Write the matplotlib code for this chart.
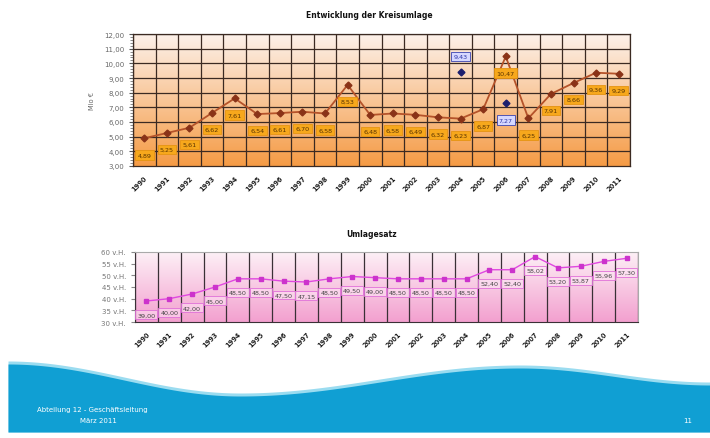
import numpy as np
import matplotlib
matplotlib.use("Agg")
import matplotlib.pyplot as plt
from matplotlib.colors import LinearSegmentedColormap

# data
years = [str(y) for y in range(1990, 2012)]
kreisumlage = [4.89, 5.25, 5.61, 6.62, 7.61, 6.54, 6.61, 6.70, 6.58, 8.53, 6.48,
               6.58, 6.49, 6.32, 6.23, 6.87, 10.47, 6.25, 7.91, 8.66, 9.36, 9.29]
extra_years = ["2004", "2006"]
extra_values = [9.43, 7.27]
extra_offsets = [11, -12]  # label above / below the point
umlagesatz = [39.00, 40.00, 42.00, 45.00, 48.50, 48.50, 47.50, 47.15, 48.50, 49.50, 49.00,
              48.50, 48.50, 48.50, 48.50, 52.40, 52.40, 58.02, 53.20, 53.87, 55.96, 57.30]

W, H = 710, 439
fig = plt.figure(figsize=(W / 100, H / 100), dpi=100)
fig.patch.set_facecolor("white")


def de(v):
    return f"{v:.2f}".replace(".", ",")


def gradient(ax, top, bottom, ymin, ymax):
    cmap = LinearSegmentedColormap.from_list("g", [bottom, top])
    grad = np.linspace(0, 1, 256).reshape(-1, 1)
    ax.imshow(grad, cmap=cmap, aspect="auto", origin="lower",
              extent=(-0.5, len(years) - 0.5, ymin, ymax), zorder=0)


def box(px, py, pw, ph):
    return fig.add_axes([px / W, 1 - (py + ph) / H, pw / W, ph / H])


x = np.arange(len(years))

# ---- top chart: Kreisumlage
ax1 = box(133, 35, 497, 132)
gradient(ax1, "#fdf1ea", "#f59b45", 3, 12)
ax1.set_xlim(-0.5, len(years) - 0.5)
ax1.set_ylim(3, 12)
for b in np.arange(-0.5, len(years), 1):
    ax1.axvline(b, color="#3b2a22", lw=0.9, zorder=1)
for yv in range(4, 13):
    ax1.axhline(yv, color="#3b2a22", lw=0.9, zorder=1)
ax1.plot(x, kreisumlage, color="#b5532a", lw=1.3, marker="D", ms=3.5,
         mfc="#8a3318", mec="#8a3318", zorder=3)
for i, v in enumerate(kreisumlage):
    ax1.annotate(de(v), (i, v), xytext=(0, -12), textcoords="offset points",
                 ha="center", va="center", fontsize=4.6, color="#5a3400", zorder=4,
                 bbox=dict(boxstyle="square,pad=0.35", fc="#f7a81c", ec="#e69412", lw=0.6))
for yr, v, off in zip(extra_years, extra_values, extra_offsets):
    i = years.index(yr)
    ax1.plot(i, v, marker="D", ms=3.5, color="#1c1f6e", ls="none", zorder=3)
    ax1.annotate(de(v), (i, v), xytext=(0, off), textcoords="offset points",
                 ha="center", va="center", fontsize=4.6, color="#2a33a8", zorder=4,
                 bbox=dict(boxstyle="square,pad=0.35", fc="#d6d8ff", ec="#3a44b0", lw=0.6))
ax1.set_yticks(range(3, 13))
ax1.set_yticklabels([de(v) for v in range(3, 13)])
ax1.set_yticks(np.arange(3, 12.01, 0.2), minor=True)
ax1.set_xticks(x)
ax1.set_xticklabels(years, rotation=45, ha="right", va="top", rotation_mode="anchor",
                    fontsize=4.8, fontweight="bold", color="#222222")
ax1.tick_params(axis="x", length=0, pad=6)
ax1.tick_params(axis="y", labelsize=5, labelcolor="#666666", length=3, color="#555555")
ax1.tick_params(axis="y", which="minor", length=2, color="#777777")
for s in ax1.spines.values():
    s.set_color("#3b2a22")
    s.set_linewidth(0.9)
ax1.set_ylabel("Mio €", fontsize=4.8, color="#666666", labelpad=6)
fig.text(369 / W, 1 - 16 / H, "Entwicklung der Kreisumlage", ha="center", va="center",
         fontsize=5.5, fontweight="bold", color="#111111")

# ---- bottom chart: Umlagesatz
ax2 = box(135, 253, 503, 70)
gradient(ax2, "#fdf0f6", "#f3a0cf", 30, 60)
ax2.set_xlim(-0.5, len(years) - 0.5)
ax2.set_ylim(30, 60)
for b in np.arange(-0.5, len(years), 1):
    ax2.axvline(b, color="#3a3036", lw=0.9, zorder=1)
ax2.plot(x, umlagesatz, color="#e048e0", lw=1.0, marker="s", ms=2.8,
         mfc="#cc33cc", mec="#cc33cc", zorder=3)
for i, v in enumerate(umlagesatz):
    ax2.annotate(de(v), (i, v), xytext=(0, -10), textcoords="offset points",
                 ha="center", va="center", fontsize=4.6, color="#444444", zorder=4,
                 bbox=dict(boxstyle="square,pad=0.3", fc=(1, 0.9, 0.97, 0.5),
                           ec="#e070d8", lw=0.6))
ax2.set_yticks(range(30, 61, 5))
ax2.set_yticklabels([f"{v} v.H." for v in range(30, 61, 5)])
ax2.set_xticks(x)
ax2.set_xticklabels(years, rotation=45, ha="right", va="top", rotation_mode="anchor",
                    fontsize=4.8, fontweight="bold", color="#222222")
ax2.tick_params(axis="x", length=0, pad=6)
ax2.tick_params(axis="y", labelsize=5, labelcolor="#777777", length=3, color="#888888")
for s in ax2.spines.values():
    s.set_color("#aaaaaa")
    s.set_linewidth(0.8)
ax2.spines["left"].set_color("#3a3036")
ax2.spines["bottom"].set_color("#3a3036")
fig.text(372 / W, 1 - 235 / H, "Umlagesatz", ha="center", va="center",
         fontsize=5.5, fontweight="bold", color="#111111")

# ---- footer wave
bg = fig.add_axes([0, 0, 1, 1], zorder=-1)
bg.set_xlim(0, W)
bg.set_ylim(H, 0)
bg.axis("off")
xs = np.linspace(8, W, 400)
kx = [8, 240, 520, 710]
ky = [365, 397, 369, 386]
wave = np.empty_like(xs)
for j in range(len(kx) - 1):
    m = (xs >= kx[j]) & (xs <= kx[j + 1])
    t = (xs[m] - kx[j]) / (kx[j + 1] - kx[j])
    wave[m] = ky[j] + (ky[j + 1] - ky[j]) * (1 - np.cos(np.pi * t)) / 2
bg.fill_between(xs, wave - 3, 433, color="#9bdcf0", lw=0)
bg.fill_between(xs, wave, 433, color="#109fd3", lw=0)
fig.text(37 / W, 1 - 410 / H, "Abteilung 12 - Geschäftsleitung", fontsize=5,
         color="white", va="center")
fig.text(80 / W, 1 - 421 / H, "März 2011", fontsize=5, color="white", va="center")
fig.text(688 / W, 1 - 421 / H, "11", fontsize=5, color="white", va="center", ha="center")

fig.savefig("out.png", dpi=100)
